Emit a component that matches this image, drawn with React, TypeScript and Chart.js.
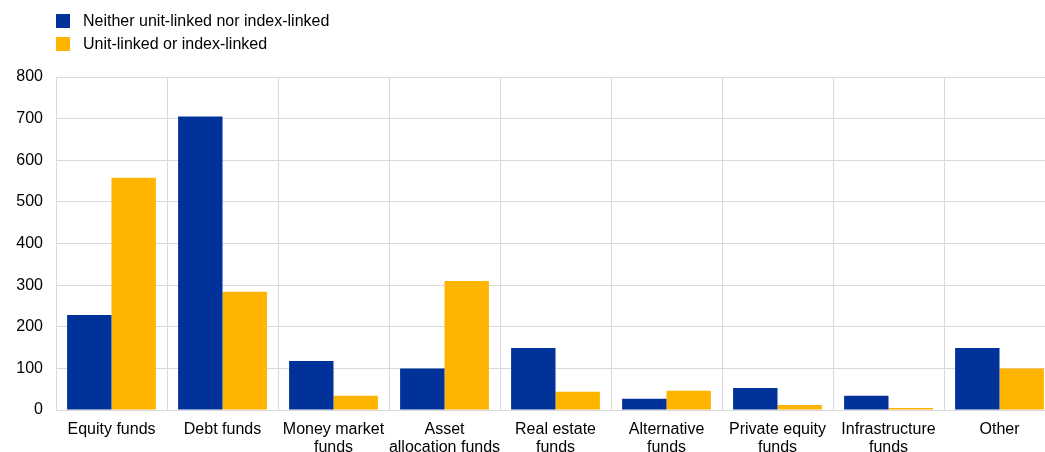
import React, { useEffect, useRef } from "react";
import { Chart, registerables } from "chart.js";

Chart.register(...registerables);

const categories: (string | string[])[] = [
  "Equity funds",
  "Debt funds",
  ["Money market", "funds"],
  ["Asset", "allocation funds"],
  ["Real estate", "funds"],
  ["Alternative", "funds"],
  ["Private equity", "funds"],
  ["Infrastructure", "funds"],
  "Other",
];
const seriesNames = ["Neither unit-linked nor index-linked", "Unit-linked or index-linked"];
const neitherValues = [228, 705, 118, 100, 149, 27, 53, 34, 149];
const linkedValues = [558, 284, 34, 310, 44, 46, 12, 5, 100];
const colors = ["#003299", "#FFB400"];
const yTicks = [0, 100, 200, 300, 400, 500, 600, 700, 800];

const FONT = "'Liberation Sans', Arial, sans-serif";

export default function App() {
  const ref = useRef<HTMLCanvasElement | null>(null);
  useEffect(() => {
    if (!ref.current) return;
    const chart = new Chart(ref.current, {
      type: "bar",
      data: {
        labels: categories,
        datasets: [
          { label: seriesNames[0], data: neitherValues, backgroundColor: colors[0], categoryPercentage: 0.8, barPercentage: 1 },
          { label: seriesNames[1], data: linkedValues, backgroundColor: colors[1], categoryPercentage: 0.8, barPercentage: 1 },
        ],
      },
      options: {
        animation: false,
        responsive: false,
        maintainAspectRatio: false,
        layout: { padding: { top: 77, right: 5, bottom: 0, left: 0 } },
        plugins: { legend: { display: false }, tooltip: { enabled: false } },
        scales: {
          x: {
            grid: { color: "#d9d9d9", drawTicks: false, offset: true },
            border: { color: "#d9d9d9" },
            ticks: { color: "#000", font: { family: FONT, size: 16, lineHeight: 1.15 }, padding: 10, maxRotation: 0, autoSkip: false },
            afterFit: (s: any) => { s.height = 60; },
          },
          y: {
            min: 0,
            max: 800,
            afterBuildTicks: (s: any) => { s.ticks = yTicks.map((v) => ({ value: v })); },
            grid: { color: "#d9d9d9", drawTicks: false },
            border: { color: "#d9d9d9" },
            ticks: { color: "#000", font: { family: FONT, size: 16 }, padding: 13 },
            afterFit: (s: any) => { s.width = 56; },
          },
        },
      },
    });
    return () => chart.destroy();
  }, []);

  const legendItem = (i: number, top: number) => (
    <div key={i} style={{ position: "absolute", left: 56, top, display: "flex", alignItems: "center", height: 14 }}>
      <div style={{ width: 14, height: 14, background: colors[i] }} />
      <span style={{ marginLeft: 13, fontFamily: FONT, fontSize: 16, color: "#000", whiteSpace: "nowrap" }}>{seriesNames[i]}</span>
    </div>
  );

  return (
    <div style={{ position: "fixed", left: 0, top: 0, width: 1045, height: 452, overflow: "hidden", background: "#fff" }}>
      <canvas ref={ref} width={1060} height={470} style={{ position: "absolute", left: 0, top: 0, width: 1060, height: 470 }} />
      {legendItem(0, 14)}
      {legendItem(1, 37)}
    </div>
  );
}
